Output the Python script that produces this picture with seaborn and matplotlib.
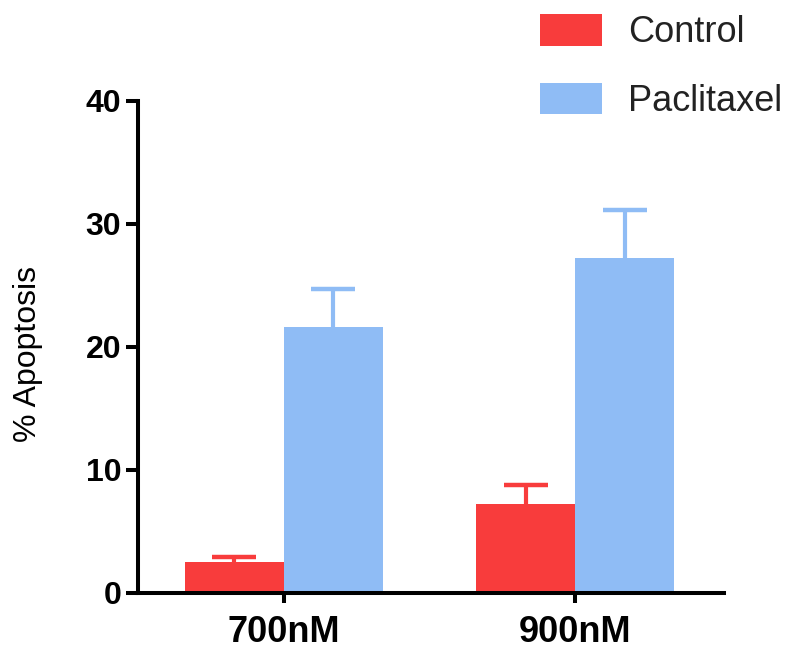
import numpy as np
import pandas as pd
import matplotlib
matplotlib.use('Agg')
import matplotlib.pyplot as plt
import seaborn as sns

# данные с картинки
doses = ['700nM', '900nM']
groups = ['Control', 'Paclitaxel']
control_mean = [2.5, 7.2]
control_err = [0.4, 1.6]
paclitaxel_mean = [21.6, 27.2]
paclitaxel_err = [3.1, 3.9]
y_ticks = [0, 10, 20, 30, 40]

red = '#F83C3C'
blue = '#8FBCF5'

df = pd.DataFrame({
    'dose': doses + doses,
    'group': [groups[0]] * 2 + [groups[1]] * 2,
    'apoptosis': control_mean + paclitaxel_mean,
})
errs = {groups[0]: control_err, groups[1]: paclitaxel_err}

sns.set_style('ticks')
plt.rcParams['font.family'] = ['Liberation Sans', 'DejaVu Sans']
plt.rcParams['text.color'] = 'black'
plt.rcParams['axes.labelcolor'] = 'black'
plt.rcParams['xtick.color'] = 'black'
plt.rcParams['ytick.color'] = 'black'

fig = plt.figure(figsize=(7.96, 6.51), dpi=100)
ax = fig.add_axes([0.1734, 0.0891, 0.9095 - 0.1734, 0.8449 - 0.0891])

sns.barplot(data=df, x='dose', y='apoptosis', hue='group', hue_order=groups,
            palette=[red, blue], width=0.68, errorbar=None, saturation=1,
            linewidth=0, ax=ax)

# планки погрешностей только вверх
for cont, grp, col in zip(ax.containers, groups, [red, blue]):
    for bar, e in zip(cont, errs[grp]):
        xc = bar.get_x() + bar.get_width() / 2
        eb = ax.errorbar(xc, bar.get_height(), yerr=[[0], [e]], fmt='none',
                         ecolor=col, elinewidth=3, capsize=16, capthick=3.2, zorder=1)
        # убрать нижнюю засечку
        for cl in eb[1]:
            if np.allclose(cl.get_ydata(), bar.get_height()):
                cl.set_visible(False)

ax.set_xlim(-0.5, 1.51)
ax.set_ylim(0, 40)
ax.set_yticks(y_ticks)
ax.set_xlabel('')
ax.set_ylabel('% Apoptosis', fontsize=23)
ax.yaxis.set_label_coords(-0.163, 0.485)

for s in ['top', 'right']:
    ax.spines[s].set_visible(False)
for s in ['left', 'bottom']:
    ax.spines[s].set_linewidth(2.9)
    ax.spines[s].set_color('black')

ax.tick_params(axis='y', length=9, width=2.9, labelsize=23, pad=3)
ax.tick_params(axis='x', length=7, width=2.9, labelsize=26, pad=9)
for lab in ax.get_xticklabels() + ax.get_yticklabels():
    lab.set_fontweight('bold')

handles, labels = ax.get_legend_handles_labels()
ax.get_legend().remove()
leg = fig.legend(handles, labels, loc='upper left', bbox_to_anchor=(0.679, 0.978),
                 frameon=False, fontsize=26, handlelength=1.7, handleheight=0.96,
                 handletextpad=0.72, labelspacing=0.9, borderpad=0, borderaxespad=0)
for t in leg.get_texts():
    t.set_color('#222222')

fig.savefig('out.png', dpi=100)
